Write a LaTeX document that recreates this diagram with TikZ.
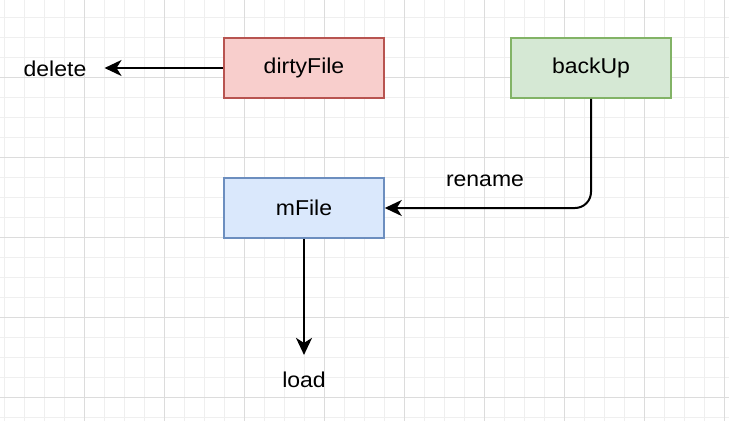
\documentclass[tikz,border=0pt]{standalone}
\usepackage{fontspec}
\setmainfont{Liberation Sans}[FakeStretch=1.07]
\usetikzlibrary{arrows.meta,calc}
\definecolor{gridminor}{HTML}{EFEFEF}
\definecolor{gridmajor}{HTML}{DCDCDC}
\definecolor{redfill}{HTML}{F8CECC}
\definecolor{redline}{HTML}{B85450}
\definecolor{greenfill}{HTML}{D5E8D4}
\definecolor{greenline}{HTML}{82B366}
\definecolor{bluefill}{HTML}{DAE8FC}
\definecolor{blueline}{HTML}{6C8EBF}
\tikzset{
  box/.style={draw, line width=1.5pt, minimum width=160pt, minimum height=60pt, inner sep=0pt, font=\fontsize{21.5}{25}\selectfont},
  lbl/.style={inner sep=0pt, font=\fontsize{21.5}{25}\selectfont},
  conn/.style={line width=2pt, -{Stealth[length=17pt,width=16pt,inset=5pt]}},
}
\begin{document}
\begin{tikzpicture}[x=1pt,y=-1pt]
\useasboundingbox (0,0) rectangle (729,421);
\fill[white] (0,0) rectangle (729,421);
\foreach \x in {4,24,...,724} \draw[gridminor,line width=1pt] (\x,0) -- (\x,421);
\foreach \y in {17,37,...,417} \draw[gridminor,line width=1pt] (0,\y) -- (729,\y);
\foreach \x in {84,164,...,724} \draw[gridmajor,line width=1pt] (\x,0) -- (\x,421);
\foreach \y in {77,157,...,397} \draw[gridmajor,line width=1pt] (0,\y) -- (729,\y);

\node[box, fill=redfill, draw=redline] (dirty) at (304,68) {dirtyFile};
\node[box, fill=greenfill, draw=greenline] (backup) at (591,68) {backUp};
\node[box, fill=bluefill, draw=blueline] (mfile) at (304,208) {mFile};
\node[lbl] (delete) at (55,69) {delete};
\node[lbl] (load) at (304,380) {load};
\node[lbl] (rename) at (485,181) {rename};

\draw[conn] (dirty.west) -- ([xshift=18pt]dirty.west -| delete.east);
\draw[conn, rounded corners=16pt] (backup.south) |- (mfile.east);
\draw[conn] (mfile.south) -- ([yshift=17pt]load.north);
\end{tikzpicture}
\end{document}
